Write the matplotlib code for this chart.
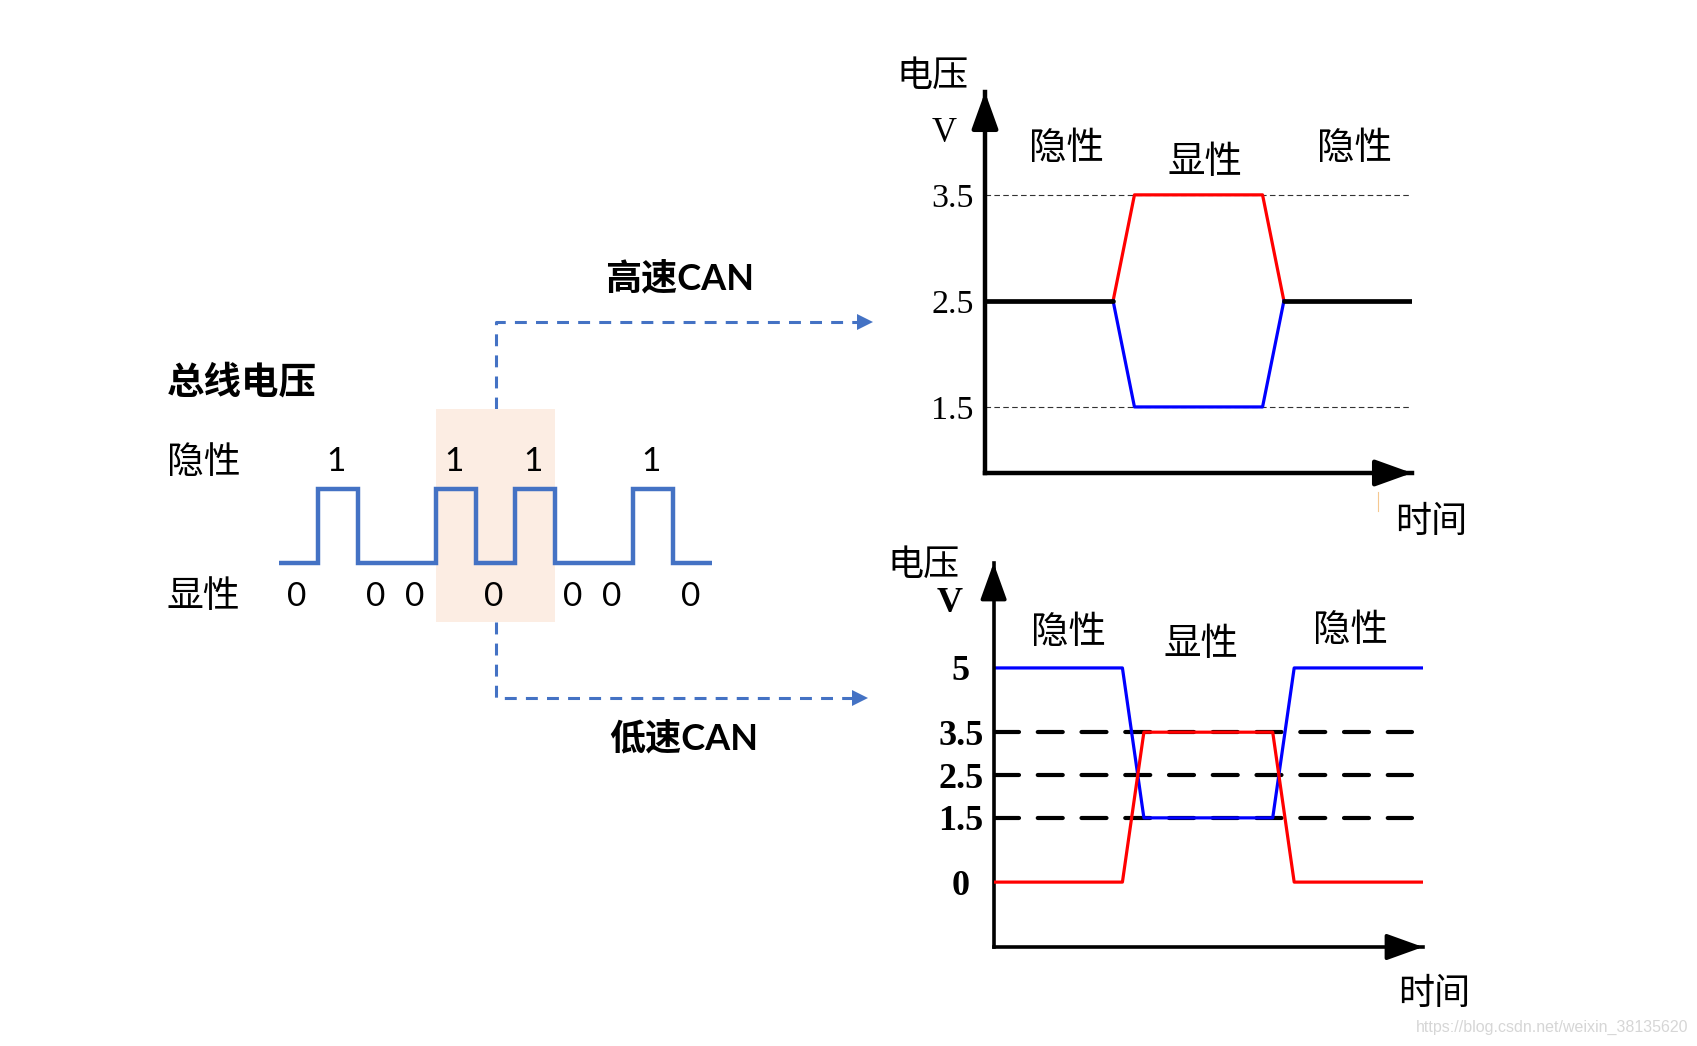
import matplotlib
matplotlib.use("Agg")
import matplotlib.pyplot as plt
import numpy as np

W, H, DPI = 1697, 1046, 100

# ---------------- data ----------------
bits = [0, 1, 0, 0, 1, 0, 1, 0, 0, 1, 0]
highlight_bits = (4, 7)
bus_title = "总线电压"
level_names = ["隐性", "显性"]

t_edges = [0, 6, 7, 13, 14, 20]
hs_canh = [2.5, 2.5, 3.5, 3.5, 2.5, 2.5]
hs_canl = [2.5, 2.5, 1.5, 1.5, 2.5, 2.5]
hs_ticks = [1.5, 2.5, 3.5]
hs_tick_labels = ["1.5", "2.5", "3.5"]

ls_canh = [0, 0, 3.5, 3.5, 0, 0]
ls_canl = [5, 5, 1.5, 1.5, 5, 5]
ls_ticks = [0, 1.5, 2.5, 3.5, 5]
ls_tick_labels = ["0", "1.5", "2.5", "3.5", "5"]
ls_dashed = [1.5, 2.5, 3.5]

state_labels = ["隐性", "显性", "隐性"]
hs_title = "高速CAN"
ls_title = "低速CAN"
y_label = "电压"
unit_label = "V"
x_label = "时间"
watermark = "https://blog.csdn.net/weixin_38135620"

CJK = "Noto Sans CJK SC"
SERIF = "Liberation Serif"
BLUE_W = "#4472c4"
PEACH = "#fcede3"
DY = 4  # vertical nudge for CJK text

fig = plt.figure(figsize=(W / DPI, H / DPI), dpi=DPI)
fig.patch.set_facecolor("white")

# overlay axes in pixel coordinates (for annotations/text)
ax0 = fig.add_axes([0, 0, 1, 1])
ax0.set_xlim(0, W)
ax0.set_ylim(H, 0)
ax0.axis("off")


def px_axes(x0, y0, x1, y1):
    a = fig.add_axes([x0 / W, 1 - y1 / H, (x1 - x0) / W, (y1 - y0) / H])
    a.patch.set_alpha(0)
    return a


def cjk(x, y, s, size=26, **kw):
    ax0.text(x, y + DY, s, ha=kw.pop("ha", "center"), va="center",
             fontsize=size, family=kw.pop("family", CJK), **kw)


# ---------------- left: bus waveform ----------------
axw = px_axes(279, 409, 712, 622)
axw.set_xlim(0, len(bits))
axw.set_ylim(-0.8, 2.08)
axw.axis("off")
axw.axvspan(highlight_bits[0], highlight_bits[1], color=PEACH, zorder=0, lw=0)
xs = np.arange(len(bits) + 1)
ys = bits + [bits[-1]]
axw.plot(xs, ys, drawstyle="steps-post", color=BLUE_W, lw=3.2,
         solid_joinstyle="miter", solid_capstyle="butt", zorder=2)
for i, b in enumerate(bits):
    axw.text(i + 0.45, 1.37 if b else -0.46, str(b), ha="center", va="center",
             fontsize=24, family=["Lato", "DejaVu Sans"], zorder=3)

cjk(167, 378, bus_title, size=27, ha="left", fontweight="bold")
cjk(167, 458, level_names[0], size=26.5, ha="left")
cjk(167, 593, level_names[1], size=26.5, ha="left")

# connectors
ax0.plot([496, 496, 862], [409, 322, 322], color=BLUE_W, lw=2.2,
         dashes=(3.9, 3))
ax0.plot(865, 322, marker=">", ms=11, color=BLUE_W, mew=0)
ax0.plot([496, 496, 857], [622, 698, 698], color=BLUE_W, lw=2.2,
         dashes=(3.9, 3))
ax0.plot(860, 698, marker=">", ms=11, color=BLUE_W, mew=0)
cjk(680, 274, hs_title, size=26, family=["Lato", CJK], fontweight="bold")
cjk(684, 734, ls_title, size=26, family=["Lato", CJK], fontweight="bold")


def arrow_axes(ax, lw):
    for s in ["top", "right"]:
        ax.spines[s].set_visible(False)
    for s in ["left", "bottom"]:
        ax.spines[s].set_linewidth(lw)
        ax.spines[s].set_color("k")
    ax.set_xticks([])
    style = "-|>,head_length=0.75,head_width=0.27"
    ax.annotate("", xy=(0, 1), xytext=(0, 0.93), xycoords="axes fraction",
                arrowprops=dict(arrowstyle=style, lw=lw, color="k",
                                mutation_scale=30, shrinkA=0, shrinkB=0))
    ax.annotate("", xy=(1, 0), xytext=(0.93, 0), xycoords="axes fraction",
                arrowprops=dict(arrowstyle=style, lw=lw, color="k",
                                mutation_scale=30, shrinkA=0, shrinkB=0))
    ax.tick_params(axis="y", length=0)


# ---------------- top right: high speed CAN ----------------
axh = px_axes(985, 92, 1412, 473)
axh.set_xlim(t_edges[0], t_edges[-1])
axh.set_ylim(0.877, 4.47)
arrow_axes(axh, 3.2)
axh.set_yticks(hs_ticks, hs_tick_labels)
axh.tick_params(axis="y", pad=8)
for lab in axh.get_yticklabels():
    lab.set_fontfamily(SERIF)
    lab.set_fontsize(24.5)
axh.hlines([hs_ticks[0], hs_ticks[-1]], t_edges[0], t_edges[-1], color="#333333",
           lw=0.8, linestyles=(0, (5, 3)), zorder=1)
canh = np.array(hs_canh)
canl = np.array(hs_canl)
t = np.array(t_edges)
rec = np.where(canh == canl, canh, np.nan)
axh.plot(t, rec, color="k", lw=3.4, solid_capstyle="round", zorder=3)
dom = slice(1, 5)
axh.plot(t[dom], canh[dom], color="#ff0000", lw=2.3, zorder=2)
axh.plot(t[dom], canl[dom], color="#0000ff", lw=2.3, zorder=2)

cjk(933, 72, y_label, size=26)
ax0.text(944, 133, unit_label, ha="center", va="center", fontsize=25, family=SERIF)
for x, y, s in zip([1067, 1205, 1354], [145, 158, 145], state_labels):
    cjk(x, y, s, size=27)
cjk(1431, 518, x_label, size=26)
ax0.plot([1378, 1378], [492, 511], color="#f5c890", lw=0.8)

# ---------------- bottom right: low speed CAN ----------------
axl = px_axes(993.6, 563, 1423, 947)
axl.set_xlim(t_edges[0], t_edges[-1])
axl.set_ylim(-1.515, 7.45)
arrow_axes(axl, 2.6)
axl.set_yticks(ls_ticks, ls_tick_labels)
axl.tick_params(axis="y", pad=23.5)
for lab in axl.get_yticklabels():
    lab.set_fontfamily(SERIF)
    lab.set_fontsize(26)
    lab.set_fontweight("bold")
    lab.set_horizontalalignment("center")
for lv in ls_dashed:
    axl.plot([t_edges[0], t_edges[-1] * 0.975], [lv, lv], color="k", lw=3,
             dashes=(6, 4.5), dash_capstyle="round", zorder=1)
axl.plot(t, ls_canl, color="#0000ff", lw=2.3, zorder=2)
axl.plot(t, ls_canh, color="#ff0000", lw=2.3, zorder=3)

cjk(924, 561, y_label, size=26)
ax0.text(950, 603, unit_label, ha="center", va="center", fontsize=26,
         family=SERIF, fontweight="bold")
for x, y, s in zip([1068, 1201, 1351], [628, 641, 626], state_labels):
    cjk(x, y, s, size=27)
cjk(1434, 990, x_label, size=26)

ax0.text(1688, 1027, watermark, ha="right", va="center", fontsize=11.5,
         family="Liberation Sans", color="#d6d6d6")

fig.savefig("out.png", dpi=DPI, facecolor="white")
